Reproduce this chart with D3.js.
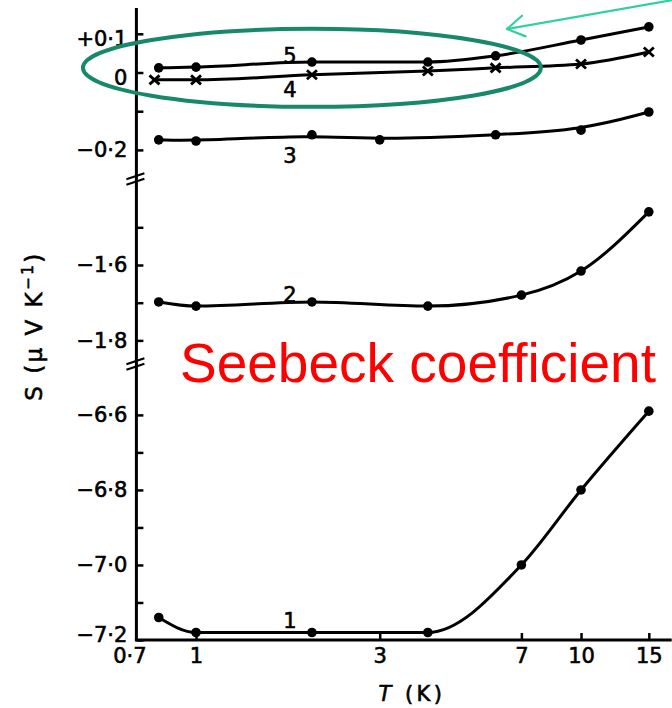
<!DOCTYPE html>
<html>
<head>
<meta charset="utf-8">
<script src="https://cdn.jsdelivr.net/npm/d3@7"></script>
<style>
  html, body { margin: 0; padding: 0; background: #fff; }
  svg { display: block; }
</style>
</head>
<body>
<svg id="chart" width="672" height="708"></svg>
<script>
// Temperatures (K) at which each sample was measured
const tempsS5 = [0.8, 1, 2, 4, 6, 10, 15];
const tempsS4 = [0.78, 1, 2, 4, 6, 10, 15];
const tempsS3 = [0.8, 1, 2, 3, 6, 10, 15];
const tempsS2 = [0.8, 1, 2, 4, 7, 10, 15];
const tempsS1 = [0.8, 1, 2, 4, 7, 10, 15];

// Seebeck coefficient S (µV K^-1) for samples 1–5
const s5 = [0.012, 0.014, 0.027, 0.027, 0.043, 0.084, 0.118];
const s4 = [-0.019, -0.019, -0.006, 0.004, 0.012, 0.022, 0.053];
const s3 = [-0.174, -0.177, -0.161, -0.174, -0.161, -0.149, -0.102];
const s2 = [-1.698, -1.709, -1.698, -1.709, -1.680, -1.616, -1.459];
const s1 = [-7.14, -7.18, -7.18, -7.18, -7.00, -6.80, -6.59];

// Axis ticks and their labels
const xTicks = [0.7, 1, 3, 7, 10, 15];
const xTickLabels = ["0·7", "1", "3", "7", "10", "15"];
const yTicksTop = [0.1, 0, -0.1, -0.2];
const yLabelsTop = ["+0·1", "0", "", "−0·2"];
const yTicksMid = [-1.5, -1.6, -1.7, -1.8];
const yLabelsMid = ["", "−1·6", "", "−1·8"];
const yTicksBot = [-6.6, -6.7, -6.8, -6.9, -7.0, -7.1, -7.2];
const yLabelsBot = ["−6·6", "", "−6·8", "", "−7·0", "", "−7·2"];

const FONT = "'DejaVu Sans', sans-serif";
const NOTE_FONT = "'Liberation Sans', Arial, sans-serif";
const INK = 0.6; // extra outline so the printed labels read as heavy as the curves
const svg = d3.select("#chart");

// Log temperature axis and a broken S axis made of three linear panels
const x = d3.scaleLog().domain([0.7, 17.2]).range([136.4, 671.7]);
const yTop = d3.scaleLinear().domain([-0.2726, 0.1667]).range([178, 8]);
const yMid = d3.scaleLinear().domain([-1.86, -1.3745]).range([363, 180]);
const yBot = d3.scaleLinear().domain([-7.2, -6.467]).range([640, 365]);

const x0 = x(0.7);
const yBase = yBot(-7.2);

// Axis lines
svg.append("line")
  .attr("x1", x0).attr("x2", x0)
  .attr("y1", yTop.range()[1]).attr("y2", yBase)
  .attr("stroke", "#000").attr("stroke-width", 3);
svg.append("line")
  .attr("x1", x0 - 1.5).attr("x2", x.range()[1])
  .attr("y1", yBase).attr("y2", yBase)
  .attr("stroke", "#000").attr("stroke-width", 3);

// Y-axis panels: ticks point inward, labels to the left
function drawYAxis(scale, vals, labels) {
  const g = svg.append("g")
    .attr("transform", `translate(${x0},0)`)
    .call(d3.axisLeft(scale)
      .tickValues(vals)
      .tickFormat((d, i) => labels[i])
      .tickSize(-7)
      .tickPadding(9));
  g.attr("font-size", 21).attr("font-family", FONT);
  g.select(".domain").remove();
  g.selectAll(".tick line").attr("stroke", "#000").attr("stroke-width", 2.5);
  g.selectAll(".tick text").attr("fill", "#000")
    .attr("stroke", "#000").attr("stroke-width", INK);
  return g;
}
const gTop = drawYAxis(yTop, yTicksTop, yLabelsTop);
gTop.selectAll(".tick text").filter(d => d >= 0).attr("dy", "0.55em");
drawYAxis(yMid, yTicksMid, yLabelsMid);
const gBot = drawYAxis(yBot, yTicksBot, yLabelsBot);
gBot.selectAll(".tick text").filter(d => d === -7.2).attr("dy", "0.05em");

// X axis
const gx = svg.append("g")
  .attr("transform", `translate(0,${yBase})`)
  .call(d3.axisBottom(x)
    .tickValues(xTicks)
    .tickFormat((d, i) => xTickLabels[i])
    .tickSize(-7)
    .tickPadding(8));
gx.attr("font-size", 21).attr("font-family", FONT);
gx.select(".domain").remove();
gx.selectAll(".tick line").attr("stroke", "#000").attr("stroke-width", 2.5)
  .filter(d => d === 0.7).remove();
gx.selectAll(".tick text").attr("fill", "#000")
  .attr("stroke", "#000").attr("stroke-width", INK)
  .filter(d => d === 0.7).attr("dx", -7);

// Axis break marks between the panels
[(yTop.range()[0] + yMid.range()[1]) / 2, (yMid.range()[0] + yBot.range()[1]) / 2].forEach(yb => {
  [-2.8, 2.8].forEach(off => {
    svg.append("line")
      .attr("x1", x0 - 10).attr("y1", yb + off + 3)
      .attr("x2", x0 + 8).attr("y2", yb + off - 3)
      .attr("stroke", "#000").attr("stroke-width", 2.2);
  });
});

// Axis titles
const yTitle = svg.append("text")
  .attr("transform", "translate(42,326) rotate(-90)")
  .attr("text-anchor", "middle")
  .attr("font-family", FONT).attr("font-size", 23)
  .attr("letter-spacing", 2.5)
  .attr("fill", "#000")
  .attr("stroke", "#000").attr("stroke-width", INK);
yTitle.append("tspan").text("S (μ V K");
yTitle.append("tspan").attr("dy", -9).attr("font-size", 15).text("−1");
yTitle.append("tspan").attr("dy", 9).text(")");

const xTitle = svg.append("text")
  .attr("x", 412).attr("y", 701)
  .attr("text-anchor", "middle")
  .attr("font-family", FONT).attr("font-size", 21)
  .attr("letter-spacing", 3.5)
  .attr("fill", "#000")
  .attr("stroke", "#000").attr("stroke-width", INK);
xTitle.append("tspan").attr("font-style", "italic").text("T");
xTitle.append("tspan").text(" (K)");

// Data series
const series = [
  { id: "5", temps: tempsS5, vals: s5, scale: yTop, marker: "dot",   curve: d3.curveMonotoneX, labelDy: 1 },
  { id: "4", temps: tempsS4, vals: s4, scale: yTop, marker: "cross", curve: d3.curveMonotoneX, labelDy: 22 },
  { id: "3", temps: tempsS3, vals: s3, scale: yTop, marker: "dot",   curve: d3.curveBasis,     labelDy: 28 },
  { id: "2", temps: tempsS2, vals: s2, scale: yMid, marker: "dot",   curve: d3.curveMonotoneX, labelDy: 0 },
  { id: "1", temps: tempsS1, vals: s1, scale: yBot, marker: "dot",   curve: d3.curveMonotoneX, labelDy: -4 }
];

series.forEach(s => {
  const pts = s.temps.map((t, i) => ({ t, v: s.vals[i] }));
  const line = d3.line()
    .x(d => x(d.t))
    .y(d => s.scale(d.v))
    .curve(s.curve);
  svg.append("path")
    .datum(pts)
    .attr("d", line)
    .attr("fill", "none")
    .attr("stroke", "#000")
    .attr("stroke-width", 3)
    .attr("stroke-linecap", "round");

  if (s.marker === "dot") {
    svg.append("g").selectAll("circle")
      .data(pts).join("circle")
      .attr("cx", d => x(d.t))
      .attr("cy", d => s.scale(d.v))
      .attr("r", 4.8)
      .attr("fill", "#000");
  } else {
    svg.append("g").selectAll("path")
      .data(pts).join("path")
      .attr("transform", d => `translate(${x(d.t)},${s.scale(d.v)})`)
      .attr("d", "M-5,-4.5L5,4.5M-5,4.5L5,-4.5")
      .attr("stroke", "#000")
      .attr("stroke-width", 2.8)
      .attr("fill", "none");
  }

  // Sample number next to the curve
  const iRef = s.temps.indexOf(2);
  svg.append("text")
    .attr("x", x(2) - 22)
    .attr("y", s.scale(s.vals[iRef]) + s.labelDy)
    .attr("text-anchor", "middle")
    .attr("font-family", FONT).attr("font-size", 21)
    .attr("fill", "#000")
    .attr("stroke", "#000").attr("stroke-width", INK)
    .text(s.id);
});

// Highlight around samples 4 and 5 near zero
svg.append("ellipse")
  .attr("cx", x(2))
  .attr("cy", yTop(0.012))
  .attr("rx", 229).attr("ry", 39)
  .attr("fill", "none")
  .attr("stroke", "#17896a")
  .attr("stroke-width", 4);

// Pointer arrow
const tip = [507, 29];
const tail = [690, -3];
const ang = Math.atan2(tail[1] - tip[1], tail[0] - tip[0]);
const arrowColor = "#2fd0a0";
svg.append("line")
  .attr("x1", tail[0]).attr("y1", tail[1])
  .attr("x2", tip[0]).attr("y2", tip[1])
  .attr("stroke", arrowColor).attr("stroke-width", 2.2);
[-0.55, 0.55].forEach(da => {
  svg.append("line")
    .attr("x1", tip[0]).attr("y1", tip[1])
    .attr("x2", tip[0] + 20 * Math.cos(ang + da))
    .attr("y2", tip[1] + 20 * Math.sin(ang + da))
    .attr("stroke", arrowColor).attr("stroke-width", 2.2)
    .attr("stroke-linecap", "round");
});

// Annotation
svg.append("text")
  .attr("x", 180).attr("y", 382)
  .attr("font-family", NOTE_FONT)
  .attr("font-size", 55)
  .attr("fill", "#ff0000")
  .text("Seebeck coefficient");
</script>
</body>
</html>
